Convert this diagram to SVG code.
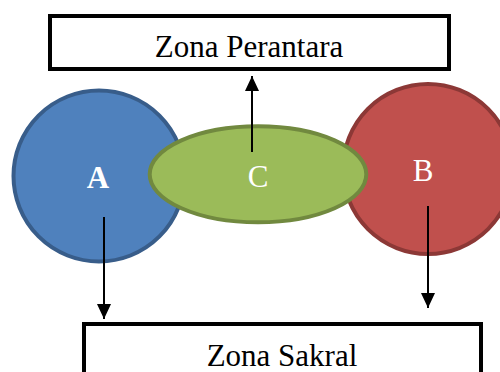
<svg xmlns="http://www.w3.org/2000/svg" width="500" height="372" viewBox="0 0 500 372">
<defs>
<style>
.box{fill:#fff;stroke:#000;stroke-width:4}
.lbl{font-family:"Liberation Serif","Times New Roman",serif;font-size:31px;text-anchor:middle}
.wl{fill:#fff}
.conn{stroke:#000;stroke-width:2;fill:none}
</style>
<marker id="ah" markerUnits="userSpaceOnUse" markerWidth="16" markerHeight="14" refX="15" refY="7" orient="auto">
<path d="M0,0 L15,7 L0,14 z" fill="#000"/>
</marker>
</defs>
<g id="zona-perantara">
<rect class="box" x="50" y="16" width="399" height="53"/>
<text class="lbl" x="249" y="57">Zona Perantara</text>
</g>
<g id="zona-sakral">
<rect class="box" x="84" y="324" width="397" height="60"/>
<text class="lbl" x="282" y="366">Zona Sakral</text>
</g>
<g id="node-a">
<circle cx="99" cy="176" r="85.5" fill="#4F81BD" stroke="#385D8A" stroke-width="4"/>
<text class="lbl wl" x="98" y="188" font-weight="bold">A</text>
</g>
<g id="node-b">
<circle cx="428" cy="169" r="85" fill="#C0504D" stroke="#8C3836" stroke-width="4"/>
<text class="lbl wl" x="423" y="181">B</text>
</g>
<g id="node-c">
<ellipse cx="258" cy="174.3" rx="108.3" ry="48" fill="#9BBB59" stroke="#71893F" stroke-width="4"/>
<text class="lbl wl" x="258" y="187">C</text>
</g>
<g id="connectors">
<line class="conn" x1="252" y1="152" x2="252" y2="76" marker-end="url(#ah)"/>
<line class="conn" x1="104" y1="217" x2="104" y2="319" marker-end="url(#ah)"/>
<line class="conn" x1="428" y1="206" x2="428" y2="308" marker-end="url(#ah)"/>
</g>
</svg>
